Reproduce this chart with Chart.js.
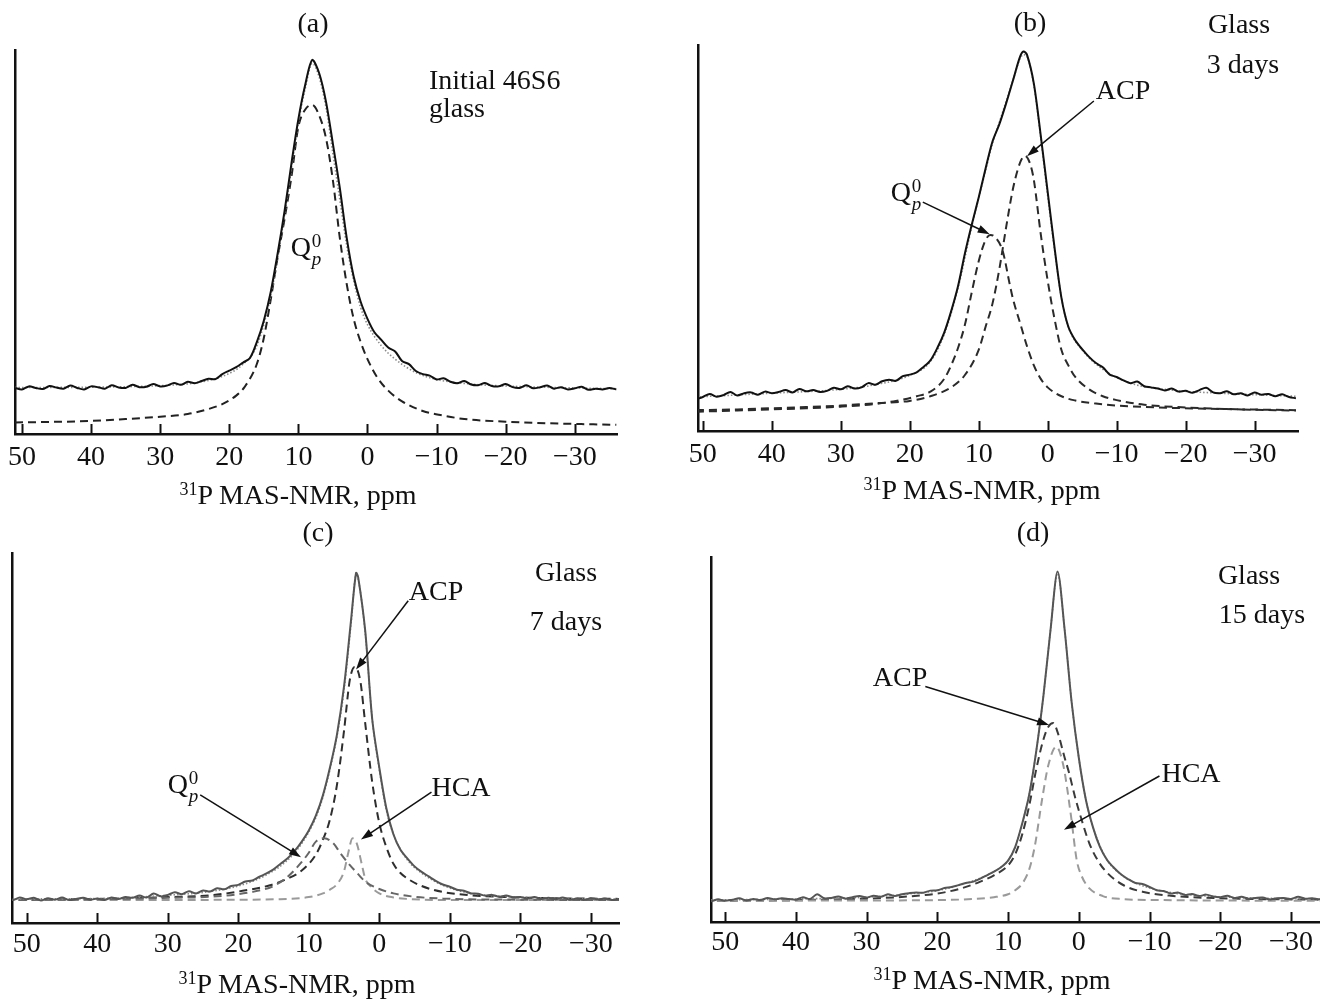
<!DOCTYPE html>
<html>
<head>
<meta charset="utf-8">
<script src="https://cdn.jsdelivr.net/npm/chart.js@4.4.0/dist/chart.umd.min.js"></script>
<style>
  body { margin: 0; background: #fff; }
  #page { position: relative; width: 1320px; height: 1000px; overflow: hidden;
          font-family: "Liberation Serif", "Times New Roman", serif; color: #111; }
  canvas { position: absolute; }
  .t { position: absolute; transform: translate(-50%, -50%); font-size: 28px; line-height: 1; white-space: nowrap; }
  .tl { position: absolute; transform: translate(0, -50%); font-size: 28px; line-height: 1; white-space: nowrap; }
  .t sup { font-size: 18px; vertical-align: 9px; }
  .ss { display: inline-block; vertical-align: middle; font-size: 19px; line-height: 0.95; margin-left: 1px; text-align: left; }
  .ss span { display: block; }
</style>
</head>
<body>
<div id="page">
  <canvas id="chartA" width="660" height="520" style="left:0;top:0"></canvas>
  <canvas id="chartB" width="660" height="520" style="left:660px;top:0"></canvas>
  <canvas id="chartC" width="660" height="500" style="left:0;top:500px"></canvas>
  <canvas id="chartD" width="660" height="500" style="left:660px;top:500px"></canvas>

  <div class="t" style="left:313px;top:23px">(a)</div>
  <div class="tl" style="left:429px;top:80px">Initial 46S6</div>
  <div class="tl" style="left:429px;top:108px">glass</div>
  <div class="t" style="left:306px;top:250px">Q<span class="ss"><span>0</span><span><i>p</i></span></span></div>
  <div class="t" style="left:298px;top:494px"><sup>31</sup>P MAS-NMR, ppm</div>

  <div class="t" style="left:1030px;top:22px">(b)</div>
  <div class="t" style="left:1239px;top:24px">Glass</div>
  <div class="t" style="left:1243px;top:64px">3 days</div>
  <div class="t" style="left:1123px;top:90px">ACP</div>
  <div class="t" style="left:906px;top:195px">Q<span class="ss"><span>0</span><span><i>p</i></span></span></div>
  <div class="t" style="left:982px;top:489px"><sup>31</sup>P MAS-NMR, ppm</div>

  <div class="t" style="left:318px;top:532px">(c)</div>
  <div class="t" style="left:566px;top:572px">Glass</div>
  <div class="t" style="left:566px;top:621px">7 days</div>
  <div class="t" style="left:436px;top:591px">ACP</div>
  <div class="t" style="left:461px;top:787px">HCA</div>
  <div class="t" style="left:183px;top:787px">Q<span class="ss"><span>0</span><span><i>p</i></span></span></div>
  <div class="t" style="left:297px;top:983px"><sup>31</sup>P MAS-NMR, ppm</div>

  <div class="t" style="left:1033px;top:532px">(d)</div>
  <div class="t" style="left:1249px;top:575px">Glass</div>
  <div class="t" style="left:1262px;top:614px">15 days</div>
  <div class="t" style="left:900px;top:677px">ACP</div>
  <div class="t" style="left:1191px;top:773px">HCA</div>
  <div class="t" style="left:992px;top:979px"><sup>31</sup>P MAS-NMR, ppm</div>
</div>
<script>
// tick values on the chemical shift axis (ppm)
const ppmTicks = [50, 40, 30, 20, 10, 0, -10, -20, -30];

// (a) initial 46S6 glass: [ppm, intensity]
const expA = [[51,12.0],[50,11.6],[49,12.4],[48,12.0],[47,11.7],[46,12.5],[45,12.1],[44,11.8],[43,12.6],[42,12.0],[41,11.6],[40,12.4],[39,12.2],[38,11.8],[37,12.7],[36,12.1],[35,12.0],[34,12.8],[33,12.2],[32,12.3],[31,13.0],[30,12.4],[29,12.6],[28,13.3],[27,12.8],[26,13.6],[25,13.2],[24,13.8],[23,14.4],[22,14.3],[21,15.6],[20,16.5],[19,17.4],[18,18.6],[17,19.8],[16,24.0],[15,29.5],[14,37],[13,47],[12,58],[11,70.5],[10,82],[9,91],[8,97.4],[7,94],[6,86.5],[5,75.5],[4,64],[3,51],[2,41],[1,34.5],[0,30],[-1,26.5],[-2,24.5],[-3,22.5],[-4,21.5],[-5,19],[-6,18.2],[-7,16.4],[-8,15.6],[-9,15.2],[-10,14.2],[-11,14.5],[-12,13.6],[-13,13.2],[-14,13.8],[-15,12.9],[-16,12.7],[-17,13.3],[-18,12.5],[-19,12.4],[-20,13.0],[-21,12.2],[-22,12.0],[-23,12.7],[-24,11.9],[-25,12.2],[-26,12.6],[-27,11.8],[-28,12.2],[-29,11.6],[-30,11.9],[-31,12.3],[-32,11.5],[-33,11.8],[-34,11.6],[-35,12.0],[-36,11.6]];
const fitA = [[51,12.1],[40,12.2],[30,12.6],[25,13.3],[21,15],[18,18.2],[16,23],[14,36],[12,57],[10,81],[9,90],[8,96.5],[7,93],[6,85],[5,73],[4,61],[3,49],[2,40],[1,33],[0,28.5],[-2,23],[-4,19.5],[-7,16],[-10,14.2],[-15,13],[-20,12.5],[-30,12],[-36,11.8]];
const qA = [[51,3.0],[40,3.4],[35,3.9],[30,4.5],[26,5.2],[23,6.5],[21,7.8],[19,10],[17.8,12.2],[16,18.3],[15,25],[14,35],[13,46],[12,56],[11,67],[10,80],[9,84.5],[8,85.7],[7,83],[6,77],[5,66],[4,51],[3,39],[2,30],[1,24],[0,19.5],[-1.5,14.5],[-3,11.3],[-5,8.5],[-8,6],[-11,4.8],[-14,3.9],[-20,3.2],[-26,2.8],[-36,2.4]];

// (b) glass after 3 days
const expB = [[51,8.2],[50,8.8],[49,9.6],[48,8.9],[47,9.3],[46,10.1],[45,9.2],[44,9.8],[43,10.0],[42,9.4],[41,10.2],[40,9.8],[39,10.1],[38,10.6],[37,10.0],[36,10.9],[35,10.3],[34,10.6],[33,10.1],[32,10.4],[31,11.2],[30,10.8],[29,11.6],[28,11.0],[27,11.3],[26,12.4],[25,12.0],[24,12.9],[23,13.3],[22,13.0],[21,14.2],[20,14.6],[19,15.2],[18,16.6],[17,18.3],[16,21.5],[15,25.5],[14,31],[13,37.5],[12,46],[11,53.5],[10,60.5],[9,68],[8,75],[7,79.5],[6,85],[5,91],[4,97],[3.5,98.3],[3,97.5],[2,90],[1,76.5],[0,62],[-1,47.5],[-2,34.5],[-3,27],[-4,23.5],[-5,21.2],[-6,19.2],[-7,17.6],[-8,16.5],[-9,14.6],[-10,14.0],[-11,13.1],[-12,12.4],[-13,12.8],[-14,11.6],[-15,11.3],[-16,11.0],[-17,10.5],[-18,11.0],[-19,10.2],[-20,10.4],[-21,9.9],[-22,10.6],[-23,11.2],[-24,10.0],[-25,9.8],[-26,10.3],[-27,9.5],[-28,9.8],[-29,9.2],[-30,10.0],[-31,9.4],[-32,9.6],[-33,9.0],[-34,9.5],[-35,8.8],[-36,8.5]];
const fitB = [[51,8.8],[40,9.8],[30,10.8],[25,12],[20,14.4],[17,18],[15,25],[13,37],[11,53],[9,67.5],[8,74.5],[7,80],[6,85.5],[5,91],[4,96.5],[3.5,97.5],[3,97],[2,89.5],[1,76],[0,61],[-1,47],[-2,34.5],[-3,27],[-5,21],[-8,16],[-12,12.4],[-18,10.6],[-25,9.8],[-36,9]];
const acpB = [[51,5.4],[45,5.6],[40,5.9],[35,6.2],[30,6.6],[25,7.2],[20,7.8],[17,9],[14,11.3],[12,14.5],[10,21],[9,27],[8,33],[7,42],[6,53],[5,63],[4,69.5],[3.3,71.3],[2.5,69],[2,65],[1,51],[0,39],[-1,29],[-2,21],[-3,17],[-4,14],[-6,10.8],[-8,9],[-10,8],[-14,6.8],[-20,6.1],[-28,5.6],[-36,5.3]];
const qB = [[51,5.0],[45,5.3],[40,5.6],[35,5.9],[30,6.3],[25,7],[22,7.8],[19,9],[17,10.2],[15,13.5],[14,17],[13,21.5],[12,27.5],[11,36],[10,44],[9,49.5],[8.3,50.8],[7.5,50],[6.5,46.5],[5.5,38],[5,34],[4,28],[3,22],[2,17],[1,13.5],[0,11.3],[-2,9],[-4,7.9],[-7,7.1],[-10,6.6],[-16,6.1],[-25,5.7],[-36,5.4]];

// (c) glass after 7 days
const expC = [[53,6.5],[52,6.2],[51,6.9],[50,6.4],[49,6.8],[48,6.1],[47,6.7],[46,6.3],[45,6.9],[44,6.2],[43,6.5],[42,6.8],[41,6.3],[40,6.6],[39,6.2],[38,6.9],[37,6.5],[36,7.0],[35,6.8],[34,7.4],[33,6.9],[32,8.0],[31,7.2],[30,7.6],[29,8.3],[28,7.8],[27,8.6],[26,8.0],[25,8.8],[24,8.5],[23,9.4],[22,9.1],[21,10.0],[20,10.3],[19,11.2],[18,11.5],[17,12.5],[16,13.4],[15,14.5],[14,16],[13,17.5],[12,19.5],[11,22],[10,25],[9,29],[8,34.5],[7,42],[6,51],[5,64],[4,82],[3.3,94.6],[3,93.5],[2,79],[1,55],[0,42],[-1,31],[-2,24],[-3,19.8],[-4,17.4],[-5,15.3],[-6,13.8],[-7,12.6],[-8,11.4],[-9,10.4],[-10,9.8],[-11,9.0],[-12,8.7],[-13,8.0],[-14,7.9],[-15,7.4],[-16,7.6],[-17,7.1],[-18,7.4],[-19,6.9],[-20,7.0],[-21,6.6],[-22,7.0],[-23,6.5],[-24,6.8],[-25,6.4],[-26,6.9],[-27,6.3],[-28,6.6],[-29,6.2],[-30,6.7],[-31,6.4],[-32,6.6],[-33,6.2],[-34,6.5],[-35,6.3]];
const fitC = [[53,6.5],[40,6.6],[30,7.5],[24,8.5],[20,10],[16,13],[13,17],[11,21.5],[9,28.5],[8,34],[7,41.5],[6,50.5],[5,63],[4,81],[3.3,94],[3,93],[2,78.5],[1,55],[0,41.5],[-1,30.5],[-2,24],[-4,17],[-6,13.5],[-9,10.2],[-13,8],[-20,7],[-35,6.4]];
const acpC = [[53,6.2],[40,6.5],[30,7],[24,7.5],[20,8.5],[15.5,10.2],[13,12],[11,14.2],[9,18.5],[8,22.5],[7,28],[6,37.4],[5,52],[4.2,65.5],[3.5,69.2],[2.7,65.5],[2,54],[1,38],[0,27],[-1,20.5],[-2,16],[-3,13.5],[-4,12],[-6,10],[-9,8.4],[-13,7.5],[-18,7],[-25,6.7],[-35,6.5]];
const qC = [[53,6.2],[40,6.4],[30,6.8],[24,7.1],[18,8.4],[15,10],[13,12.5],[11,16.5],[10,19],[9,22],[7.8,22.9],[6.5,21.5],[5.5,18.8],[4.2,15.7],[3,13.2],[2,11.2],[0,9.2],[-2,8],[-5,7.1],[-9,6.6],[-20,6.3],[-35,6.2]];
const hcaC = [[53,6.2],[30,6.2],[20,6.3],[15,6.4],[10,7],[8,8],[7,9],[6,10.5],[5,14],[4.4,19],[3.8,22.9],[3.2,21.5],[2.5,16],[2,12],[1,9.5],[0,8],[-2,6.9],[-4,6.5],[-10,6.2],[-35,6.2]];

// (d) glass after 15 days
const expD = [[53,6.0],[52,5.7],[51,6.2],[50,5.8],[49,6.1],[48,6.5],[47,5.9],[46,6.3],[45,6.0],[44,6.6],[43,6.2],[42,6.5],[41,6.3],[40,6.1],[39,6.8],[38,6.3],[37,7.6],[36,6.5],[35,6.6],[34,7.0],[33,6.4],[32,6.8],[31,7.1],[30,6.7],[29,7.2],[28,6.9],[27,7.6],[26,7.1],[25,7.6],[24,7.9],[23,8.1],[22,8.0],[21,8.6],[20,8.7],[19,9.3],[18,9.6],[17,10.1],[16,10.7],[15,11.0],[14,11.8],[13,12.8],[12,13.8],[11,15],[10,16.8],[9,20.5],[8,27],[7,35],[6,47],[5,62],[4,80],[3,96],[2,80],[1,60],[0,45],[-1,33.5],[-2,26],[-3,20.5],[-4,17],[-5,14.8],[-6,13],[-7,11.7],[-8,10.7],[-9,10.4],[-10,9.6],[-11,8.7],[-12,8.5],[-13,7.8],[-14,8.1],[-15,7.4],[-16,7.7],[-17,7.1],[-18,7.5],[-19,7.0],[-20,6.8],[-21,7.2],[-22,6.6],[-23,6.9],[-24,6.4],[-25,6.6],[-26,6.7],[-27,6.2],[-28,6.5],[-29,6.6],[-30,6.3],[-31,6.9],[-32,6.4],[-33,6.5],[-34,6.2],[-35,6.4]];
const fitD = [[53,6],[40,6.3],[30,6.8],[24,7.7],[20,8.6],[16,10.6],[13,12.8],[11,15],[10,16.8],[9,20.5],[8,27],[7,35],[6,47],[5,62],[4,80],[3,95.5],[2,80],[1,60],[0,45],[-1,33.5],[-2,26],[-4,17],[-6,13],[-8,10.7],[-12,8.4],[-20,6.9],[-35,6.3]];
const acpD = [[53,5.8],[40,6.0],[30,6.4],[24,7],[20,7.8],[17,9],[14,11],[12,12.8],[10,15.5],[9,18.5],[8,24],[7,32],[6,42],[5,50],[4.3,53.5],[3.6,54.5],[3,52],[2,45],[1.4,41],[0.5,34],[-0.4,28],[-1.5,21.5],[-2.8,16.5],[-4,13.5],[-6.4,10],[-9,8.3],[-13,7.2],[-20,6.5],[-35,6.1]];
const hcaD = [[53,5.8],[30,5.9],[20,6.0],[15,6.3],[12,6.8],[10,7.6],[9,8.7],[8,10.5],[7,14.5],[6.2,21],[5.2,33.5],[4.3,43],[3.2,48],[2.2,43],[1.1,29],[0.3,17],[-0.4,12.6],[-1.5,9.2],[-3.4,7.1],[-6,6.3],[-12,6],[-35,5.8]];

// annotation arrows: [fromPpm, fromY, toPpm, toY]
const arrowsB = [[-6.7, 85.5, 3.0, 71.2], [18.1, 59.3, 8.4, 51]];
const arrowsC = [[-4.1, 87.1, 3.3, 68.5], [-7.4, 35.4, 2.6, 22.6], [25.4, 34.6, 11.1, 17.8]];
const arrowsD = [[21.7, 64.5, 4.2, 54], [-11.4, 40, 2.1, 25.3]];

const toXY = arr => arr.map(p => ({x: p[0], y: p[1]}));

function expLine(data, color) {
  return {data: toXY(data), borderColor: color, borderWidth: 2, pointRadius: 0, tension: 0.3, fill: false};
}
function fitLine(data) {
  return {data: toXY(data), borderColor: '#8a8a8a', borderWidth: 1.6, borderDash: [1.5, 2], pointRadius: 0, cubicInterpolationMode: 'monotone', fill: false};
}
function compLine(data, color) {
  return {data: toXY(data), borderColor: color, borderWidth: 2, borderDash: [8, 5], pointRadius: 0, cubicInterpolationMode: 'monotone', fill: false};
}

// short tick marks pointing up into the plot
const innerTicks = {
  id: 'innerTicks',
  afterDatasetsDraw(chart) {
    const {ctx, chartArea} = chart;
    const x = chart.scales.x;
    ctx.save();
    ctx.strokeStyle = '#111';
    ctx.lineWidth = 2;
    x.ticks.forEach(t => {
      const px = Math.round(x.getPixelForValue(t.value)) + 0.5;
      ctx.beginPath();
      ctx.moveTo(px, chartArea.bottom);
      ctx.lineTo(px, chartArea.bottom - 10);
      ctx.stroke();
    });
    ctx.restore();
  }
};

const arrowPlugin = {
  id: 'arrows',
  afterDatasetsDraw(chart, args, opts) {
    const {ctx} = chart;
    const {x, y} = chart.scales;
    ctx.save();
    ctx.strokeStyle = '#111';
    ctx.fillStyle = '#111';
    ctx.lineWidth = 1.5;
    (opts.list || []).forEach(a => {
      const x0 = x.getPixelForValue(a[0]), y0 = y.getPixelForValue(a[1]);
      const x1 = x.getPixelForValue(a[2]), y1 = y.getPixelForValue(a[3]);
      const ang = Math.atan2(y1 - y0, x1 - x0);
      const len = 12, w = 4;
      ctx.beginPath();
      ctx.moveTo(x0, y0);
      ctx.lineTo(x1 - Math.cos(ang) * len * 0.8, y1 - Math.sin(ang) * len * 0.8);
      ctx.stroke();
      ctx.beginPath();
      ctx.moveTo(x1, y1);
      ctx.lineTo(x1 - Math.cos(ang) * len - Math.sin(ang) * w, y1 - Math.sin(ang) * len + Math.cos(ang) * w);
      ctx.lineTo(x1 - Math.cos(ang) * len + Math.sin(ang) * w, y1 - Math.sin(ang) * len - Math.cos(ang) * w);
      ctx.closePath();
      ctx.fill();
    });
    ctx.restore();
  }
};

function makeChart(id, datasets, p) {
  return new Chart(document.getElementById(id), {
    type: 'line',
    data: {datasets: datasets},
    plugins: [innerTicks, arrowPlugin],
    options: {
      responsive: false,
      animation: false,
      devicePixelRatio: 1,
      layout: {padding: p.pad},
      plugins: {legend: {display: false}, tooltip: {enabled: false}, arrows: {list: p.arrows || []}},
      scales: {
        x: {
          type: 'linear', reverse: true, min: p.min, max: p.max,
          afterBuildTicks: s => { s.ticks = ppmTicks.map(v => ({value: v})); },
          afterFit: s => { s.height = p.xh; },
          grid: {display: false, drawTicks: false},
          border: {display: true, color: '#111', width: 2.5},
          ticks: {
            padding: p.tickPad, color: '#111', maxRotation: 0, autoSkip: false,
            font: {family: 'Liberation Serif', size: 28},
            callback: v => v < 0 ? '\u2212' + Math.abs(v) : String(v)
          }
        },
        y: {
          min: 0, max: 100,
          afterFit: s => { s.width = 0; },
          grid: {display: false, drawTicks: false},
          ticks: {display: false},
          border: {display: true, color: '#111', width: 2.5}
        }
      }
    }
  });
}

makeChart('chartA', [expLine(expA, '#111'), fitLine(fitA), compLine(qA, '#222')],
  {min: -36.1, max: 51, pad: {left: 15, right: 43, top: 50, bottom: 0}, xh: 86, tickPad: 7, arrows: []});

makeChart('chartB', [expLine(expB, '#111'), fitLine(fitB), compLine(acpB, '#2a2a2a'), compLine(qB, '#2a2a2a')],
  {min: -36.3, max: 50.7, pad: {left: 38, right: 22, top: 45, bottom: 0}, xh: 89, tickPad: 7, arrows: arrowsB});

makeChart('chartC', [expLine(expC, '#555'), fitLine(fitC), compLine(qC, '#666'), compLine(hcaC, '#9a9a9a'), compLine(acpC, '#2e2e2e')],
  {min: -34.0, max: 52.1, pad: {left: 12, right: 41, top: 53, bottom: 0}, xh: 77, tickPad: 5, arrows: arrowsC});

makeChart('chartD', [expLine(expD, '#555'), fitLine(fitD), compLine(hcaD, '#9a9a9a'), compLine(acpD, '#3a3a3a')],
  {min: -34.1, max: 52.0, pad: {left: 51, right: 0, top: 57, bottom: 0}, xh: 78, tickPad: 4, arrows: arrowsD});
</script>
</body>
</html>
